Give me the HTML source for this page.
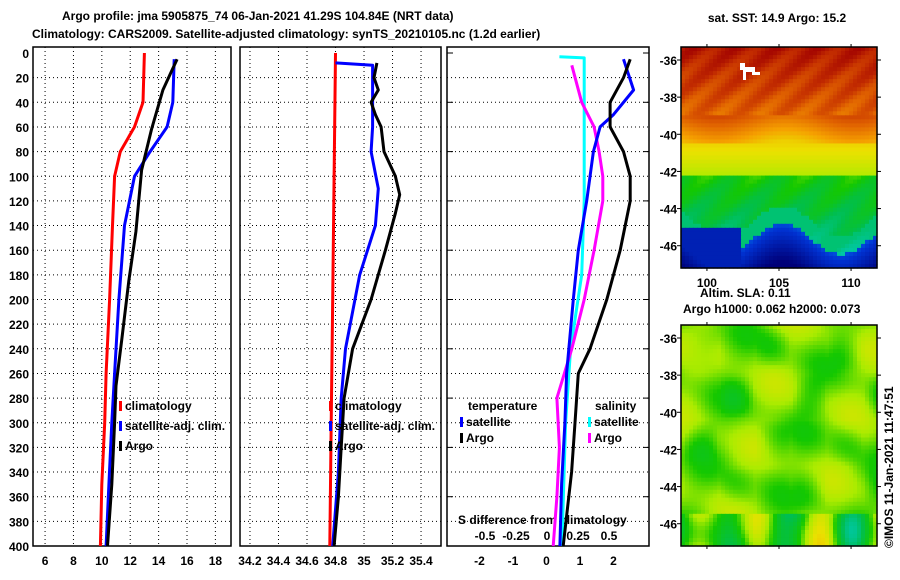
<!DOCTYPE html>
<html><head><meta charset="utf-8"><style>
body{margin:0;background:#fff}
svg{display:block}
text{font-family:"Liberation Sans",sans-serif;font-weight:bold;font-size:12px;fill:#000}
</style></head><body>
<svg id="s" width="900" height="580">
<text x="62" y="20" font-size="13">Argo profile: jma 5905875_74 06-Jan-2021 41.29S 104.84E (NRT data)</text>
<text x="32" y="38" font-size="13">Climatology: CARS2009. Satellite-adjusted climatology: synTS_20210105.nc (1.2d earlier)</text>
<text x="777" y="22" font-size="12" text-anchor="middle">sat. SST: 14.9 Argo: 15.2</text>
<text x="700" y="297">Altim. SLA: 0.11</text>
<text x="683" y="313">Argo h1000: 0.062 h2000: 0.073</text>
<text transform="translate(893,548) rotate(-90)" font-size="11" font-weight="normal">©IMOS 11-Jan-2021 11:47:51</text>
</svg>
<script>
const depthTicks=[0,20,40,60,80,100,120,140,160,180,200,220,240,260,280,300,320,340,360,380,400];
const tTicks=[6,8,10,12,14,16,18];
const sTicks=[34.2,34.4,34.6,34.8,35,35.2,35.4];
const dTicks=[-2,-1,0,1,2];
const sdTicks=[-0.5,-0.25,0,0.25,0.5];
const latTicks=[-36,-38,-40,-42,-44,-46];
const lonTicks=[100,105,110];
// temperature panel
const tClimD=[0,40,60,80,100,140,200,260,300,350,400];
const tClimV=[13.0,12.9,12.3,11.3,10.9,10.75,10.55,10.3,10.2,10.0,9.9];
const tSatD=[5,40,60,80,100,140,200,260,300,350,400];
const tSatV=[15.1,15.0,14.6,13.4,12.3,11.6,11.2,10.9,10.7,10.5,10.3];
const tArgoD=[5,15,30,62,95,145,185,233,270,300,350,400];
const tArgoV=[15.3,14.9,14.3,13.5,12.8,12.4,11.9,11.4,11.0,10.9,10.7,10.4];
// salinity panel
const sClimD=[0,100,200,300,400];
const sClimV=[34.8,34.79,34.78,34.77,34.76];
const sSatD=[8,10,30,60,80,110,140,180,240,280,340,400];
const sSatV=[34.8,35.06,35.06,35.06,35.05,35.1,35.08,34.97,34.87,34.84,34.82,34.78];
const sArgoD=[8,20,30,40,50,60,80,100,115,130,160,200,240,280,320,360,400];
const sArgoV=[35.09,35.07,35.1,35.05,35.08,35.12,35.14,35.22,35.25,35.22,35.15,35.05,34.92,34.86,34.84,34.82,34.79];
// difference panel (temperature units)
const dTSatD=[5,30,50,60,80,120,160,200,260,300,350,400];
const dTSatV=[2.3,2.6,2.0,1.6,1.4,1.2,0.95,0.8,0.6,0.55,0.45,0.4];
const dTArgoD=[5,20,40,60,80,100,120,160,200,240,260,300,340,400];
const dTArgoV=[2.5,2.3,1.9,1.9,2.3,2.5,2.5,2.2,1.8,1.3,0.95,0.85,0.75,0.5];
// difference panel (salinity units)
const dSSatD=[3,4,60,120,180,240,300,400];
const dSSatV=[0.1,0.3,0.3,0.3,0.28,0.19,0.15,0.12];
const dSArgoD=[10,40,60,80,100,120,160,200,240,280,320,360,400];
const dSArgoV=[0.2,0.28,0.38,0.42,0.45,0.45,0.38,0.3,0.2,0.08,0.1,0.08,0.05];

const NS="http://www.w3.org/2000/svg";
const svg=document.getElementById('s');
function mk(tag,attrs,parent){const e=document.createElementNS(NS,tag);for(const k in attrs)e.setAttribute(k,attrs[k]);(parent||svg).appendChild(e);return e;}
const yD=d=>53+d*1.2325;
const TOP=47,BOT=546;
const panels=[
 {l:33,r:231,min:5.15,max:19.1,ticks:tTicks,name:'temperature-panel'},
 {l:240,r:441,min:34.13,max:35.54,ticks:sTicks,name:'salinity-panel'},
 {l:447,r:649,min:-2.97,max:3.06,ticks:dTicks,name:'difference-panel'}];
panels.forEach(p=>{p.x=v=>p.l+(v-p.min)/(p.max-p.min)*(p.r-p.l);});
const sdx=v=>547+v*124;

panels.forEach((p,i)=>{
 const g=mk('g',{});
 
 
 depthTicks.forEach(d=>{if(d>0&&d<400){const l=mk('line',{x1:p.l,x2:p.r,y1:yD(d),y2:yD(d),stroke:'#000','stroke-dasharray':'1,3'},g);}});
 if(i<2)p.ticks.forEach(t=>{const x=p.x(t);const l=mk('line',{x1:x,x2:x,y1:TOP,y2:BOT,stroke:'#000','stroke-dasharray':'1,3'},g);});
 p.ticks.forEach(t=>{const x=p.x(t);const tx=mk('text',{x:x,y:565,'text-anchor':'middle'},g);tx.textContent=String(t);});
 const fr=mk('rect',{x:p.l,y:TOP,width:p.r-p.l,height:BOT-TOP,fill:'none',stroke:'#000','stroke-width':1.5},g);
 
});
[0,40,80,120,160,200,240,280,320,360,400].forEach(d=>{mk('line',{x1:643,x2:649,y1:yD(d),y2:yD(d),stroke:'#000'});mk('line',{x1:447,x2:453,y1:yD(d),y2:yD(d),stroke:'#000'});});
depthTicks.forEach(d=>{const t=mk('text',{x:29,y:yD(d)+5,'text-anchor':'end'});t.textContent=d;});
sdTicks.forEach(s=>{const t=mk('text',{x:sdx(s),y:540,'text-anchor':'middle'});t.textContent=String(s);});
{const t=mk('text',{x:458,y:524});t.textContent='S difference from climatology';}

function line(D,V,xf,col,name){const pts=D.map((d,i)=>xf(V[i]).toFixed(1)+','+yD(d).toFixed(1)).join(' ');
 const e=mk('polyline',{points:pts,fill:'none',stroke:col,'stroke-width':3,'stroke-linejoin':'round'});
 }
line(tClimD,tClimV,panels[0].x,'#f00','temp-climatology-line');
line(tSatD,tSatV,panels[0].x,'#00f','temp-satellite-line');
line(tArgoD,tArgoV,panels[0].x,'#000','temp-argo-line');
line(sClimD,sClimV,panels[1].x,'#f00','sal-climatology-line');
line(sSatD,sSatV,panels[1].x,'#00f','sal-satellite-line');
line(sArgoD,sArgoV,panels[1].x,'#000','sal-argo-line');
line(dSSatD,dSSatV,sdx,'#0ff','sdiff-satellite-line');
line(dSArgoD,dSArgoV,sdx,'#f0f','sdiff-argo-line');
line(dTSatD,dTSatV,panels[2].x,'#00f','tdiff-satellite-line');
line(dTArgoD,dTArgoV,panels[2].x,'#000','tdiff-argo-line');

function leg(x,y,col,label,name){mk('rect',{x:x,y:y-9,width:3,height:10,fill:col});const t=mk('text',{x:x+6,y:y});t.textContent=label;}
[[119,'#f00','climatology'],[119,'#00f','satellite-adj. clim.'],[119,'#000','Argo']].forEach((a,i)=>leg(a[0],410+i*20,a[1],a[2],'legend-entry-t'));
[[329,'#f00','climatology'],[329,'#00f','satellite-adj. clim.'],[329,'#000','Argo']].forEach((a,i)=>leg(a[0],410+i*20,a[1],a[2],'legend-entry-s'));
{const t=mk('text',{x:468,y:410});t.textContent='temperature';
 const t2=mk('text',{x:595,y:410});t2.textContent='salinity';}
leg(460,426,'#00f','satellite','legend-tdiff-satellite');leg(460,442,'#000','Argo','legend-tdiff-argo');
leg(588,426,'#0ff','satellite','legend-sdiff-satellite');leg(588,442,'#f0f','Argo','legend-sdiff-argo');

// maps
const ML=681,MR=877;
const CM=[[0,[0,0,120]],[0.12,[0,50,210]],[0.2,[0,160,240]],[0.27,[0,200,170]],[0.35,[0,190,80]],[0.45,[20,200,0]],[0.52,[170,235,0]],[0.6,[235,225,0]],[0.7,[245,160,0]],[0.8,[225,100,0]],[0.9,[195,45,0]],[1,[160,0,0]]];
function cmap(v){v=Math.max(0,Math.min(1,v));for(let i=1;i<CM.length;i++){if(v<=CM[i][0]){const a=CM[i-1],b=CM[i],f=(v-a[0])/(b[0]-a[0]);const c=a[1].map((x,k)=>Math.round(x+(b[1][k]-x)*f));return 'rgb('+c.join(',')+')';}}return 'rgb(160,0,0)';}
function drawMap(top,bot,field,name){const g=mk('g',{});
 const nx=49,ny=55,w=(MR-ML)/nx,h=(bot-top)/ny;
 for(let j=0;j<ny;j++)for(let i=0;i<nx;i++){mk('rect',{x:(ML+i*w).toFixed(2),y:(top+j*h).toFixed(2),width:(w+0.6).toFixed(2),height:(h+0.6).toFixed(2),fill:cmap(field(i/nx,j/ny))},g);}
 mk('rect',{x:ML,y:top,width:MR-ML,height:bot-top,fill:'none',stroke:'#000','stroke-width':1.5},g);
 latTicks.forEach(l=>{const y=top+(-35.3-l)/(47.2-35.3)*(bot-top);mk('line',{x1:MR,x2:MR+4,y1:y,y2:y,stroke:'#000'},g);mk('line',{x1:ML-4,x2:ML,y1:y,y2:y,stroke:'#000'},g);const t=mk('text',{x:677,y:y+5,'text-anchor':'end'},g);t.textContent=l;});
 lonTicks.forEach(l=>{const x=ML+(l-98.2)/(111.8-98.2)*(MR-ML);mk('line',{x1:x,x2:x,y1:top-3,y2:top,stroke:'#000'},g);mk('line',{x1:x,x2:x,y1:bot,y2:bot+3,stroke:'#000'},g);});}
drawMap(47,268,(u,v)=>{
 let b;
 if(v<0.3)b=0.95-v*0.5+0.04*Math.sin(u*30+v*40);
 else if(v<0.43)b=0.82-(v-0.3)*1.3+0.04*Math.sin(u*9);
 else if(v<0.58)b=0.62-(v-0.43)*0.6;
 else b=0.44-(v-0.58)*0.4+0.03*Math.sin(u*25+v*30);
 const wave=0.86+0.07*Math.sin(u*10.5-0.6);
 if(v>wave-0.08)b=Math.min(b,0.32);
 if(v>wave)b=Math.min(b,0.14-(v-wave)*0.8);
 if(u<0.3&&v>0.8)b=Math.min(b,0.08);
 return b;},'sst-map');
lonTicks.forEach(l=>{const x=ML+(l-98.2)/(111.8-98.2)*(MR-ML);const t=mk('text',{x:x,y:287,'text-anchor':'middle'});t.textContent=l;});
mk('path',{d:'M740 63h5v4h10v5h5v3h-8v-3h-6v8h-3v-10h-3z',fill:'#fff'});
drawMap(325,546,(u,v)=>{let b=0.5+0.03*Math.sin(u*14+v*5)+0.03*Math.sin(v*19-u*7)-0.04*Math.max(0,Math.sin(u*17)*Math.sin(v*15));
 if(v>0.85)b+=0.1*Math.sin(u*20)-0.03;return b;},'sla-map');
</script>
</body></html>
